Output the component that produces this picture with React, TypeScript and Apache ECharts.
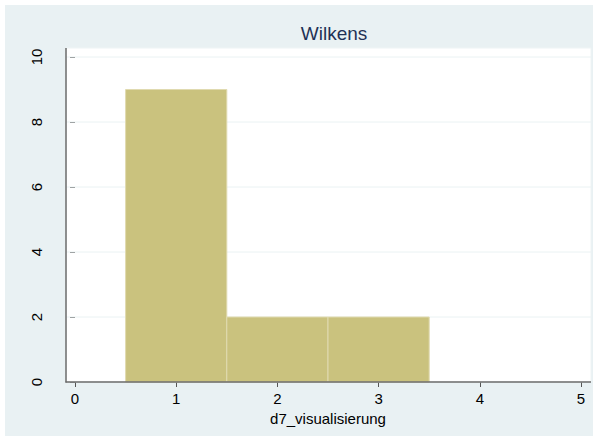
import React, { useEffect, useRef } from "react";
import * as echarts from "echarts";

const title = "Wilkens";
const xTitle = "d7_visualisierung";
const binCenters = [1, 2, 3];
const binHeights = [9, 2, 2];
const binWidth = 1;
const xTicks = [0, 1, 2, 3, 4, 5];
const yTicks = [0, 2, 4, 6, 8, 10];

export default function App() {
  const ref = useRef<HTMLDivElement>(null);
  useEffect(() => {
    document.body.style.margin = "0";
    const chart = echarts.init(ref.current!, undefined, { renderer: "svg" });
    const font = "Liberation Sans, Arial, sans-serif";
    const data = binCenters.map((c, i) => [c, binHeights[i]]);
    chart.setOption({
      animation: false,
      backgroundColor: "#ffffff",
      title: {
        text: title,
        left: 329,
        top: 19,
        textAlign: "center",
        textStyle: { color: "#1F3156", fontSize: 19, fontWeight: "normal", fontFamily: font },
      },
      graphic: [
        { type: "rect", z: -20, silent: true, shape: { x: 5, y: 5, width: 588, height: 431 }, style: { fill: "#E9F1F3" } },
        { type: "rect", z: -10, silent: true, shape: { x: 66, y: 48, width: 525, height: 334 }, style: { fill: "#ffffff", stroke: "#EEF4F5", lineWidth: 1 } },
        { type: "line", z: 10, silent: true, shape: { x1: 66, y1: 48, x2: 66, y2: 382.5 }, style: { stroke: "#6B6B6B", lineWidth: 1.5 } },
        { type: "line", z: 10, silent: true, shape: { x1: 65.5, y1: 382, x2: 591, y2: 382 }, style: { stroke: "#6B6B6B", lineWidth: 1.5 } },
      ],
      grid: { left: 75, right: 18, top: 57, bottom: 59 },
      xAxis: {
        type: "value",
        min: xTicks[0],
        max: xTicks[xTicks.length - 1],
        interval: 1,
        name: xTitle,
        nameLocation: "middle",
        nameGap: 23,
        nameTextStyle: { color: "#000", fontSize: 15, fontFamily: font, verticalAlign: "top" },
        axisLine: { show: false },
        axisTick: { show: true, length: 5, lineStyle: { color: "#555" } },
        axisLabel: { color: "#000", fontSize: 15, fontFamily: font, margin: 9 },
        splitLine: { show: false },
      },
      yAxis: {
        type: "value",
        min: yTicks[0],
        max: yTicks[yTicks.length - 1],
        interval: 2,
        offset: 9,
        axisLine: { show: false },
        axisTick: { show: true, length: 5, lineStyle: { color: "#555" } },
        axisLabel: { color: "#000", fontSize: 15, fontFamily: font, rotate: 90, margin: 22 },
        splitLine: { show: false },
      },
      series: [
        {
          type: "custom",
          data: yTicks.map((v) => [v]),
          z: 1,
          silent: true,
          renderItem: (params: any, api: any) => {
            const v = api.value(0);
            const a = api.coord([-0.09, v]);
            const b = api.coord([5.1, v]);
            return {
              type: "line",
              shape: { x1: a[0], y1: a[1], x2: b[0], y2: b[1] },
              style: { stroke: "#EAF2F3", lineWidth: 1 },
            };
          },
          clip: false,
        },
        {
          type: "custom",
          data,
          z: 3,
          renderItem: (params: any, api: any) => {
            const c = api.value(0);
            const h = api.value(1);
            const p1 = api.coord([c - binWidth / 2, h]);
            const p2 = api.coord([c + binWidth / 2, 0]);
            return {
              type: "rect",
              shape: { x: p1[0], y: p1[1], width: p2[0] - p1[0], height: p2[1] - p1[1] },
              style: { fill: "#CAC27E", stroke: "#E0DAB0", lineWidth: 1 },
            };
          },
        },
      ],
    });
    return () => chart.dispose();
  }, []);
  return <div ref={ref} style={{ width: 599, height: 441 }} />;
}
